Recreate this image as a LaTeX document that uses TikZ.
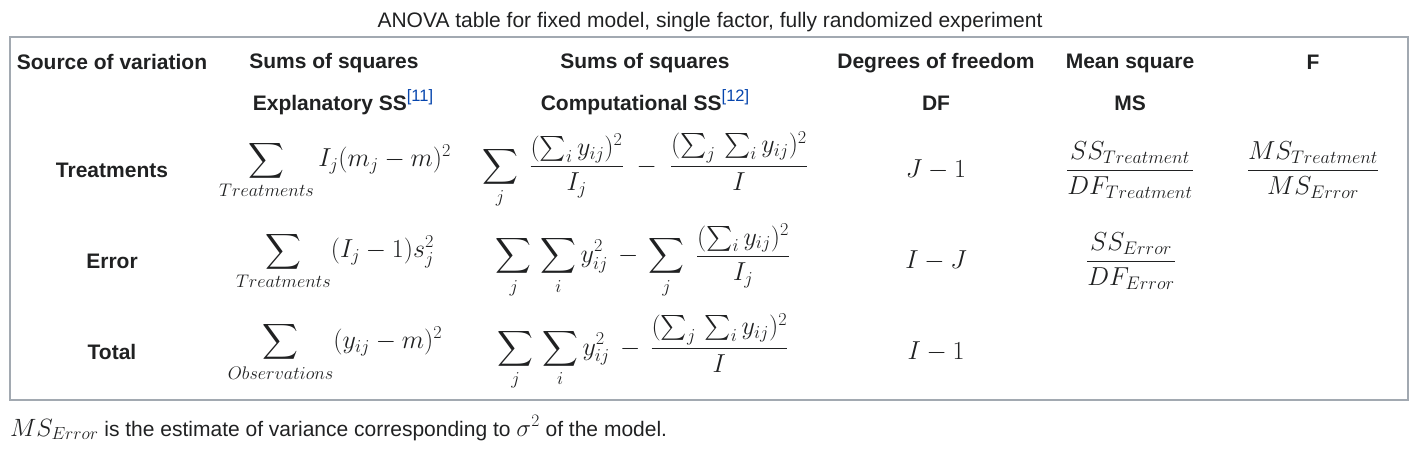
\RequirePackage{fix-cm}
\documentclass[tikz,border=0pt]{standalone}
\usepackage[no-math]{fontspec}
\setmainfont{Liberation Sans}
\usepackage{amsmath}
\usepackage{xcolor}
\definecolor{ink}{HTML}{202122}
\definecolor{rulegray}{HTML}{A2A9B1}
\definecolor{linkblue}{HTML}{0645AD}
\newcommand{\wref}[1]{\raisebox{8.5pt}{\fontsize{16.5}{18}\selectfont\mdseries\color{linkblue}[#1]}}
\begin{document}
\begin{tikzpicture}[x=1pt, y=-1pt, every node/.style={text=ink, font=\fontsize{21}{25}\selectfont}, hd/.style={font=\fontsize{21}{25}\selectfont\bfseries}, mth/.style={font=\fontsize{26}{30}\selectfont, inner sep=0pt}]
        \useasboundingbox (0, 0) rectangle (1412, 450);
        \draw (710, 22) node (title) {ANOVA table for fixed model, single factor, fully randomized experiment};
        \draw[rulegray, line width=1.2pt] (10, 37) rectangle (1408, 400);

        % header rows
        \draw (112, 62) node[hd] (src) {Source of variation};
        \draw (334, 63) node[hd] (ssa) {Sums of squares};
        \draw (645, 63) node[hd] (ssb) {Sums of squares};
        \draw (936, 63) node[hd] (dfh) {Degrees of freedom};
        \draw (1130, 63) node[hd] (msh) {Mean square};
        \draw (1313, 62) node[hd] (fh) {F};
        \draw (343, 102) node[hd] (expl) {Explanatory SS\wref{11}};
        \draw (645, 102) node[hd] (comp) {Computational SS\wref{12}};
        \draw (936, 103) node[hd] (df) {DF};
        \draw (1130, 103) node[hd] (ms) {MS};

        % treatments
        \draw (112, 170) node[hd] (treat) {Treatments};
        \draw (335, 170) node[mth] (treatx) {$\displaystyle\sum_{Treatments} I_j(m_j-m)^2$};
        \draw (645, 170) node[mth] (treatc) {$\displaystyle\sum_j\; \frac{(\sum_i y_{ij})^2}{I_j} \;-\; \frac{(\sum_j\,\sum_i y_{ij})^2}{I}$};
        \draw (936, 170) node[mth] (treatdf) {$J-1$};
        \draw (1130, 170) node[mth] (treatms) {$\displaystyle\frac{SS_{Treatment}}{DF_{Treatment}}$};
        \draw (1313, 170) node[mth] (treatf) {$\displaystyle\frac{MS_{Treatment}}{MS_{Error}}$};

        % error
        \draw (112, 261) node[hd] (err) {Error};
        \draw (335, 261) node[mth] (errx) {$\displaystyle\sum_{Treatments} (I_j-1)s_j^2$};
        \draw (643, 261) node[mth] (errc) {$\displaystyle\sum_j\,\sum_i y_{ij}^2 \,-\, \sum_j\; \frac{(\sum_i y_{ij})^2}{I_j}$};
        \draw (936, 261) node[mth] (errdf) {$I-J$};
        \draw (1131, 261) node[mth] (errms) {$\displaystyle\frac{SS_{Error}}{DF_{Error}}$};

        % total
        \draw (112, 352) node[hd] (tot) {Total};
        \draw (335, 352) node[mth] (totx) {$\displaystyle\sum_{Observations} (y_{ij}-m)^2$};
        \draw (643, 352) node[mth] (totc) {$\displaystyle\sum_j\,\sum_i y_{ij}^2 \,-\, \frac{(\sum_j\,\sum_i y_{ij})^2}{I}$};
        \draw (936, 352) node[mth] (totdf) {$I-1$};

        \draw (10, 428) node[anchor=west, inner sep=0pt] (note) {{\fontsize{25}{28}\selectfont$MS_{Error}$} is the estimate of variance corresponding to {\fontsize{25}{28}\selectfont$\sigma^2$} of the model.};
      \end{tikzpicture}
\end{document}
